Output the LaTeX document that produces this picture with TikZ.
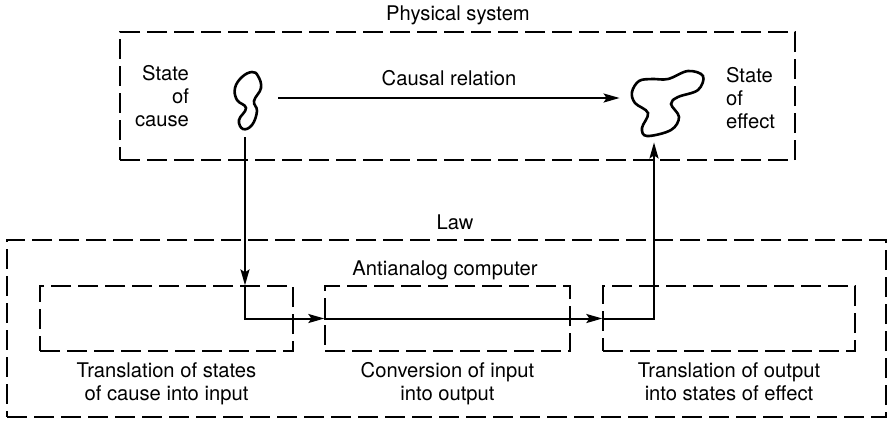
\documentclass[tikz,border=0pt]{standalone}
\usepackage{fontspec}
\setmainfont{TeX Gyre Heros}
\usetikzlibrary{arrows.meta, positioning}

\begin{document}
\begin{tikzpicture}[x=0.5pt, y=-0.5pt,
    every node/.style={font=\fontsize{10.1}{11.4}\selectfont},
    dbox/.style={draw, line width=0.65pt, dash pattern=on 10pt off 3.5pt, inner sep=0pt},
    arr/.style={line width=1pt, -{Stealth[length=8pt, width=4.5pt, inset=1.5pt]}},
    hold/.style={inner sep=0pt}]
            \useasboundingbox (0,0) rectangle (889,420);
            % outer frames
            \node[dbox, minimum width=337.5pt, minimum height=64pt] (phys) at (457.5,96) {};
            \node[dbox, minimum width=439.5pt, minimum height=88.5pt] (law) at (446.5,328.5) {};
            \node (physlbl) at (458,15) {Physical system};
            \node (lawlbl) at (455,222) {Law};
            \node (complbl) at (445,270) {Antianalog computer};
            % computer stages
            \node[dbox, minimum width=126.5pt, minimum height=32.5pt] (trin) at (166.5,318.5) {};
            \node[dbox, minimum width=122.5pt, minimum height=32.5pt] (conv) at (447.5,318.5) {};
            \node[dbox, minimum width=126pt, minimum height=32.5pt] (trout) at (729,318.5) {};
            \node[below=2pt of trin, align=center] (trinlbl) {Translation of states\\of cause into input};
            \node[below=2pt of conv, align=center] (convlbl) {Conversion of input\\into output};
            \node[below=2pt of trout, align=center] (troutlbl) {Translation of output\\into states of effect};
            % states
            \node[hold, minimum width=33pt, minimum height=39pt] (cause) at (245,98) {};
            \node[hold, minimum width=34pt, minimum height=44pt] (effect) at (654,98) {};
            \node[align=right, anchor=east] (causelbl) at (196,96) {State\\of\\cause};
            \node[align=left, anchor=west] (effectlbl) at (719,98) {State\\of\\effect};
            \draw[line width=1.3pt] plot[smooth cycle, tension=0.7] coordinates
                {(252,72) (242,77) (235,88) (237,100) (246,108) (239,120) (243,129)
                 (252,125) (257,111) (254,101) (261,88) (258,76)};
            \draw[line width=1.3pt] plot[smooth cycle, tension=0.6] coordinates
                {(632,92) (639,81) (652,79) (668,79) (688,71) (703,76) (698,90)
                 (678,97) (671,104) (679,117) (671,130) (647,136) (642,128)
                 (648,113) (635,103)};
            % connectors
            \draw[arr] (cause.east) -- node[above=2pt] (rellbl) {Causal relation} (effect.west);
            \draw[arr] (cause.south) -- (cause.south |- trin.north);
            \draw[arr] (trin.north -| cause.south) |- (conv.west);
            \draw[arr] (conv.west) -- (trout.west);
            \draw[arr] (trout.west) -| (effect.south);
        \end{tikzpicture}
\end{document}
